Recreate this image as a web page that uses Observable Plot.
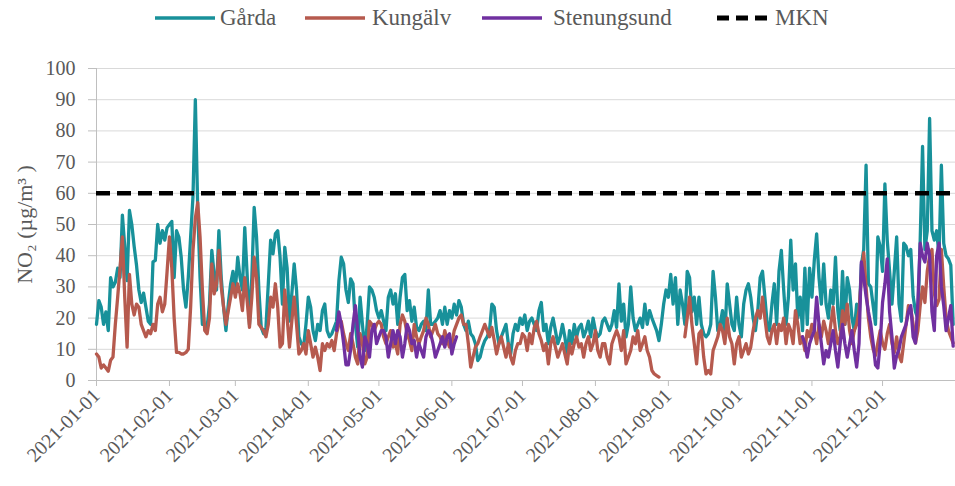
<!DOCTYPE html>
<html><head><meta charset="utf-8">
<script src="https://cdn.jsdelivr.net/npm/d3@7"></script>
<script src="https://cdn.jsdelivr.net/npm/@observablehq/plot@0.6"></script>
<style>
body{margin:0;background:#fff;font-family:"Liberation Serif",serif;}
#legend{position:relative;width:955px;height:36px;}
#legend .sw{position:absolute;top:15px;}
#legend .lb{position:absolute;top:4px;font-size:23px;line-height:28px;color:#595959;white-space:nowrap;}
</style></head><body>
<div id="legend"></div>
<div id="chart"></div>
<script>
// ---- data ----
const seriesNames = ["Gårda", "Kungälv", "Stenungsund", "MKN"];
const seriesColors = ["#18919a", "#b65a4e", "#7030a0", "#000000"];
const mknLimit = 60;
const yTicks = [0, 10, 20, 30, 40, 50, 60, 70, 80, 90, 100];
const xTickLabels = ["2021-01-01","2021-02-01","2021-03-01","2021-04-01","2021-05-01","2021-06-01",
  "2021-07-01","2021-08-01","2021-09-01","2021-10-01","2021-11-01","2021-12-01"];
const yLabel = "NO₂ (µg/m³ )";

// Gårda, daily from 2021-01-01
const gardaStart = "2021-01-01";
const gardaValues = [
  18,25.6,23.5,18,22,16,33,30,31.5,36,33,53,43,32,54.5,50,43,37,29,25,28,23.5,19,18,38,38.5,50,44,48,45,49,
  50,51,33,48,46,39.5,29,23.5,33,46,59,90,55.5,33,18,18,17,24.5,41.7,34,29,48,33,23.5,16,24.5,31,35,
  29,39.5,33,29,49,34,18,33,55.5,46,29,17,15,17,31,45,40.6,47,48,39.5,24.5,42.7,36,19,27.8,37.4,29,14,11.8,10.7,18,
  26.7,23.5,16,12.8,18,16,22.4,24.5,16,14,15,17,19,32,39.5,37.4,29,25,32.6,31,18,10.7,26.7,18,9.6,18,30,29,26.7,22.4,
  20,22.4,19,16,26.7,29,24.5,27.8,18,26.7,33,34,22.4,25.6,19,23.5,17,16,18,19,16,29,18,18,19,20,22.4,18,23.5,18,22.4,
  20,24.5,21,25.6,23.5,18,16,19,15,14,11.8,6.4,7.5,10.7,12.8,14,16,24.5,23.5,16,11.8,14,16,18,11.8,8.5,15,18,16,20,
  18,21,16,19,20,18,16,22.4,25,16,18,11.8,17,20,16,11.8,14,18,14,8.5,16,11.8,18,14,17,18,14,16,19,14,20,
  16,14,15,19,20,18,16,18,22.4,17,31,19,24.5,14,18,30,20,16,18,20,17,24.5,18,22.4,20,18,16,12.8,18,24.5,29,
  26.7,34,24.5,33,18,29,24.5,18,35,33,22,26.7,18,26.7,18,15,14,15,18,35,26.7,16,18,22.4,14,31,24.5,18,16,26.7,
  18,14,24.5,29,31,26.7,20,16,22.4,33,35,26.7,18,16,24.5,31,18,35,41.7,29,18,26.7,45,29,37.4,20,26.7,16,36,18,36,
  26.7,38.5,47,33,24.5,37.4,24.5,20,29,24.5,39.5,22.4,16,35,18,33,29,20,16,24.5,19,37,42,69,31,30,24,18,46,43,
  35,63,45,35,24.5,35,46,24.5,19,44,43,40,42,27,22,20,45,75,42,48,84,48,45,48,40,69,44,40,39,37,18
];

// Kungälv, two measured periods
const kungalvStart1 = "2021-01-01";
const kungalvValues1 = [
  8.5,7.5,4,5,4,3,6.5,7.5,18,26.7,36,46,26.7,10.7,34,24.5,21,24.5,23.5,18,16,14,16,15,18,16,24.5,26.7,22,24.5,35,
  46,36,20,9,9,8.5,8.5,9,10,23.5,41.7,52,57,46,29,16,15,20,37.4,27.8,31,41.7,30,23.5,18,22.4,26.7,31,
  26.7,31,27.8,22.4,33,25.6,17,26.7,39.5,33,18,17,16,14,18,26.7,23.5,31,23.5,10.7,11.8,29,20,10.7,19,26.7,18,8.5,9.6,11.8,8.5,
  16,11.8,7.5,10.7,7.5,3.2,11.8,9.6,11.8,10.7,12.8,9.6,15,18,19,15,11.8,9.6,15,11.8,7.5,5.3,15,11.8,5.3,7.5,19,18,16,18,
  19,18,14,11.8,14,16,10.7,11.8,8.5,18,21,19,15,12.8,9.6,18,14,11.8,14,16,20,18,14,16,18,15,14,11.8,16,12.8,10.7,
  11.8,16,18,20,21,18,18,11.8,4.3,7.5,10.7,11.8,14,16,18,16,14,17,12.8,8.5,11.8,14,10.7,7.5,11.8,7.5,5.3,9.6,11.8,11.8,
  15,14,9.6,15,11.8,17,19,15,12.8,9.6,11.8,5.3,11.8,14,10.7,7.5,9.6,11.8,8.5,5.3,11.8,8.5,11.8,14,10.7,11.8,7.5,11.8,14,9.6,11.8,
  16,9.6,7.5,11.8,11.8,7.5,5.3,11.8,14,16,14,9.6,16,5.3,7.5,9.6,14,11.8,16,9.6,11.8,14,9.6,7.5,3.2,2.1,1.6,1.1
];
const kungalvStart2 = "2021-09-08";
const kungalvValues2 = [
  14,20,26.7,18,11.8,5.3,15,16,7.5,2.1,3.2,2.1,9.6,11.8,14,18,16,11.8,20,14,11.8,5.3,11.8,
  14,7.5,9.6,11.8,8.5,10.7,16,20,22.4,20,26.7,20,14,11.8,16,18,11.8,18,16,20,11.8,18,16,11.8,22.4,18,11.8,14,9.6,16,14,
  18,16,11.8,18,14,19,16,11.8,18,23.5,16,11.8,14,22.4,18,24.5,16,11.8,16,18,22.4,33,41,30,20,14,10,8,12,16,
  12,10,15,18,12,9,14,8,6,12,18,24,23,18,12,16,24,30,25,35,40,42,28,24,26,42,30,20,16,14,12
];

// Stenungsund, two measured periods
const stenungsundStart1 = "2021-04-13";
const stenungsundValues1 = [
  16,22,18,12,5,5,10,18,24,16,7.5,4.3,14,11.8,7.5,16,18,11.8,
  14,16,16,14,7.5,11.8,16,11.8,16,14,7.5,11.8,18,16,11.8,12.8,7.5,11.8,9.6,7.5,14,16,15,11.8,7.5,9.6,11.8,14,10.7,14,15,
  8.5,11.8,14
];
const stenungsundStart2 = "2021-10-28";
const stenungsundValues2 = [
  14,11.8,7.5,11.8,
  14,16,26.7,18,11.8,5.3,9.6,7.5,11.8,16,9.6,4.3,11.8,18,11.8,7.5,11.8,16,9.6,4.3,11.8,38,33,27,22,18,12,5,4,12,
  25,31,39,22,14,4,8,10,14,16,18,22,24,14,12,25,44,40,38,44,40,22,16,40,44,30,24,16,20,24,11
];

// ---- build rows ----
const parse = d3.utcParse("%Y-%m-%d");
function rows(series, segment, start, values) {
  const s = parse(start);
  return values.map((v, i) => ({series, segment, date: d3.utcDay.offset(s, i), value: v}));
}
const garda = rows(seriesNames[0], "g", gardaStart, gardaValues);
const kungalv = [...rows(seriesNames[1], "k1", kungalvStart1, kungalvValues1),
                 ...rows(seriesNames[1], "k2", kungalvStart2, kungalvValues2)];
const stenungsund = [...rows(seriesNames[2], "s1", stenungsundStart1, stenungsundValues1),
                     ...rows(seriesNames[2], "s2", stenungsundStart2, stenungsundValues2)];
const tickDates = xTickLabels.map(parse);
const x0 = parse("2021-01-01"), x1 = parse("2022-01-01");

// ---- legend ----
const legend = document.getElementById("legend");
const legendPos = [[155, 220], [305, 372], [482, 553], [717, 775]];
seriesNames.forEach((name, i) => {
  const [sl, tl] = legendPos[i];
  const dashed = i === 3;
  const w = dashed ? 50 : 60;
  const sw = document.createElementNS("http://www.w3.org/2000/svg", "svg");
  sw.setAttribute("class", "sw"); sw.setAttribute("width", w); sw.setAttribute("height", 6);
  sw.style.left = sl + "px";
  sw.innerHTML = `<line x1="0" x2="${w}" y1="3" y2="3" stroke="${seriesColors[i]}" stroke-width="${dashed ? 5 : 3.5}" ${dashed ? 'stroke-dasharray="12,7"' : ''}/>`;
  legend.appendChild(sw);
  const lb = document.createElement("span");
  lb.className = "lb"; lb.style.left = tl + "px"; lb.textContent = name;
  legend.appendChild(lb);
});

// ---- chart ----
const fmt = d3.utcFormat("%Y-%m-%d");
const chart = Plot.plot({
  width: 955,
  height: 450,
  marginLeft: 96,
  marginRight: 0,
  marginTop: 32,
  marginBottom: 106,
  style: {fontFamily: "Liberation Serif, serif", fontSize: "19px", color: "#595959", background: "#fff"},
  x: {type: "utc", domain: [x0, x1]},
  y: {domain: [0, 100]},
  marks: [
    Plot.gridY(yTicks, {stroke: "#d9d9d9", strokeOpacity: 1}),
    Plot.ruleY([0], {stroke: "#bfbfbf"}),
    Plot.ruleX([x0], {stroke: "#bfbfbf"}),
    Plot.axisY(yTicks, {tickSize: 8, tickPadding: 13, stroke: "#bfbfbf", fill: "#595959", fontSize: 20, label: null, tickFormat: d => d}),
    Plot.axisX(tickDates, {tickSize: 6, tickPadding: 6, tickRotate: -45, stroke: "#bfbfbf", fill: "#595959", fontSize: 20, label: null, tickFormat: fmt}),
    Plot.lineY(garda, {x: "date", y: "value", z: "segment", stroke: seriesColors[0], strokeWidth: 3.3}),
    Plot.lineY(kungalv, {x: "date", y: "value", z: "segment", stroke: seriesColors[1], strokeWidth: 3.3}),
    Plot.lineY(stenungsund, {x: "date", y: "value", z: "segment", stroke: seriesColors[2], strokeWidth: 3.3}),
    Plot.ruleY([mknLimit], {stroke: seriesColors[3], strokeWidth: 4.5, strokeDasharray: "14,7"}),
    Plot.text([yLabel], {frameAnchor: "left", textAnchor: "middle", dx: -72, rotate: -90, fontSize: 22, fill: "#595959"})
  ]
});
document.getElementById("chart").appendChild(chart);
</script>
</body></html>
